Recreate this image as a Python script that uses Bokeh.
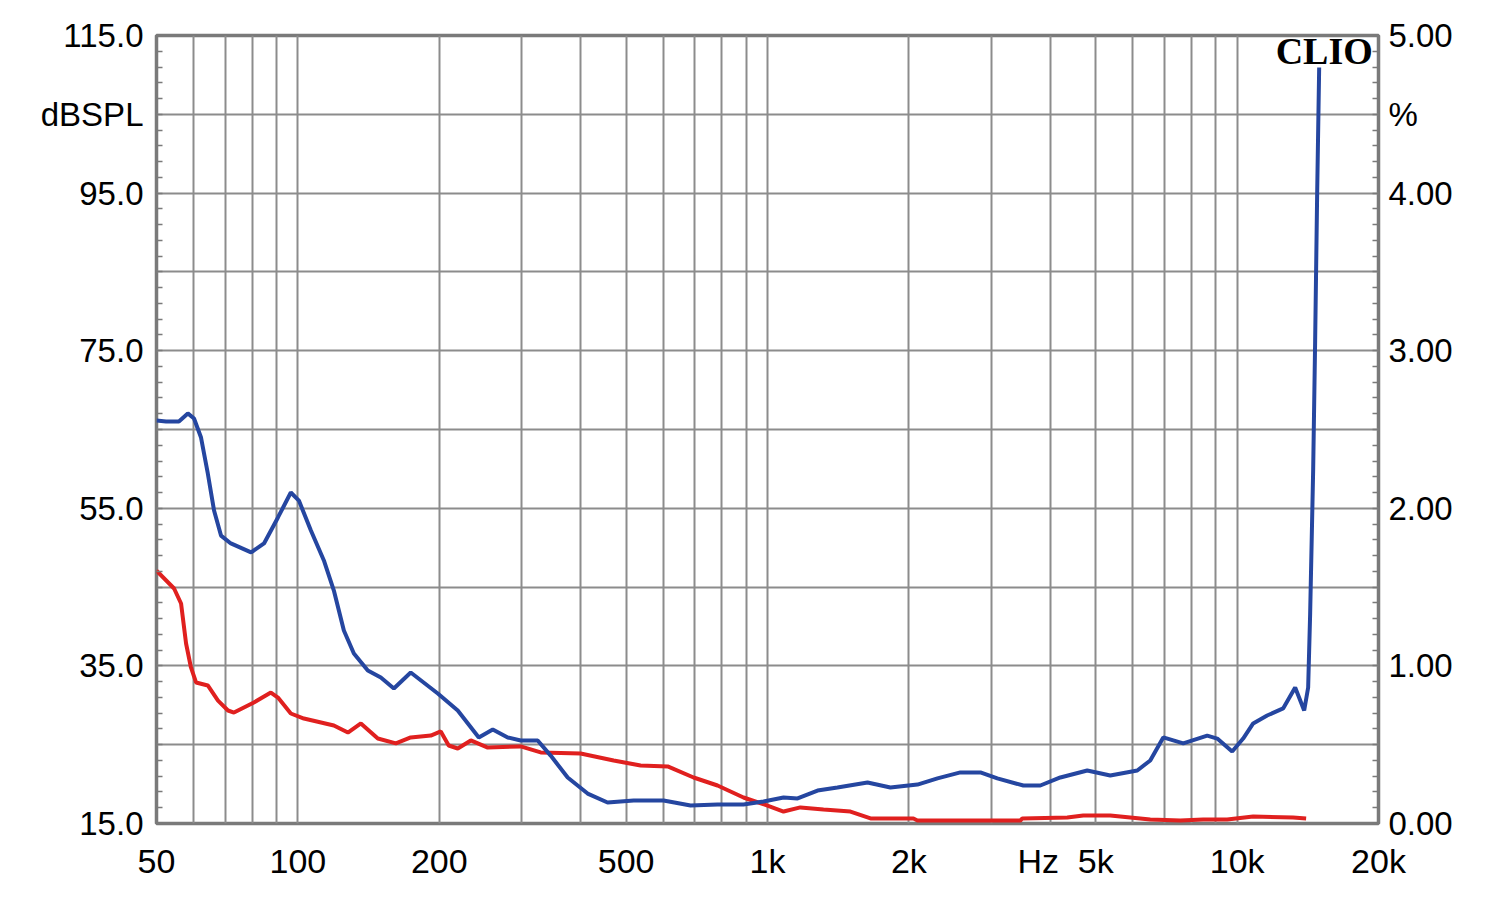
from bokeh.plotting import figure
from bokeh.models import Range1d, LinearAxis, FixedTicker, Label
from bokeh.embed import file_html
from bokeh.resources import INLINE

# ---- data ----
freq_blue = [50, 52.4, 55.8, 58.3, 60.1, 62.2, 64.3, 66.3, 68.6, 72.0, 79.5, 84.7, 90.7, 96.6,
             100.5, 106.6, 113.6, 119.3, 125.3, 131.6, 140.9, 150.2, 160.1, 173.9, 198.6, 219.0,
             242.8, 260.0, 279.8, 298.2, 324.1, 345.4, 375.4, 414.0, 456.5, 518.7, 600.8, 685.8,
             782.7, 889, 980.7, 1082, 1159, 1278, 1409, 1633, 1827, 2086, 2301, 2575, 2840, 3086,
             3506, 3810, 4203, 4796, 5368, 6129, 6531, 6962, 7679, 8636, 9071, 9760, 10300, 10818,
             11586, 12530, 13292, 13892, 14166, 14305, 14517, 14660, 14805, 14952]
thd_blue = [2.557, 2.551, 2.551, 2.602, 2.570, 2.449, 2.221, 1.986, 1.827, 1.777, 1.720, 1.777,
            1.942, 2.100, 2.049, 1.859, 1.669, 1.478, 1.225, 1.079, 0.971, 0.926, 0.857, 0.958,
            0.825, 0.717, 0.546, 0.596, 0.546, 0.527, 0.527, 0.431, 0.292, 0.190, 0.133, 0.146,
            0.146, 0.114, 0.121, 0.121, 0.140, 0.165, 0.159, 0.209, 0.228, 0.260, 0.228, 0.247,
            0.286, 0.324, 0.324, 0.286, 0.241, 0.241, 0.292, 0.336, 0.305, 0.336, 0.400, 0.546,
            0.508, 0.558, 0.539, 0.457, 0.539, 0.635, 0.685, 0.730, 0.863, 0.717, 0.863, 1.332,
            2.240, 3.065, 3.997, 4.797]

freq_red = [50, 54.5, 56.4, 57.8, 59.2, 60.7, 64.3, 67.6, 71.0, 73.1, 80.6, 87.6, 90.7, 96.6,
            103.0, 119.3, 127.8, 136.2, 148.0, 161.7, 173.9, 191.9, 201.5, 209.5, 219.0, 233.5,
            253.7, 298.2, 328.9, 400.0, 470.3, 536.8, 613, 696, 782.7, 889, 1000, 1082, 1175,
            1316, 1502, 1657, 2045, 2086, 3455, 3489, 4349, 4702, 5368, 5920, 6531, 7564, 8466,
            9524, 10818, 13158, 14026]
thd_red = [1.605, 1.491, 1.396, 1.142, 0.990, 0.895, 0.876, 0.780, 0.717, 0.704, 0.768, 0.831,
           0.799, 0.698, 0.666, 0.622, 0.577, 0.635, 0.539, 0.508, 0.546, 0.558, 0.584, 0.495,
           0.476, 0.527, 0.482, 0.489, 0.451, 0.444, 0.400, 0.368, 0.362, 0.292, 0.241, 0.165,
           0.114, 0.076, 0.102, 0.089, 0.076, 0.032, 0.032, 0.019, 0.019, 0.032, 0.038, 0.051,
           0.051, 0.038, 0.025, 0.019, 0.025, 0.025, 0.044, 0.038, 0.032]

x_ticks = [50, 100, 200, 500, 1000, 2000, 3770, 5000, 10000, 20000]
x_labels = ["50", "100", "200", "500", "1k", "2k", "Hz", "5k", "10k", "20k"]
x_grid = [60, 70, 80, 90, 100, 200, 300, 400, 500, 600, 700, 800, 900, 1000,
          2000, 3000, 4000, 5000, 6000, 7000, 8000, 9000, 10000]
db_ticks = [15, 25, 35, 45, 55, 65, 75, 85, 95, 105, 115]
db_labels = ["15.0", "", "35.0", "", "55.0", "", "75.0", "", "95.0", "dBSPL", "115.0"]
db_minor = list(range(15, 116, 2))
pct_ticks = [0.0, 0.5, 1.0, 1.5, 2.0, 2.5, 3.0, 3.5, 4.0, 4.5, 5.0]
pct_labels = ["0.00", "", "1.00", "", "2.00", "", "3.00", "", "4.00", "%", "5.00"]
pct_minor = [i / 10 for i in range(0, 51)]

FONT = "Liberation Sans"
GRID = "#8c8c8c"
FRAME = "#7a7a7a"

p = figure(width=1492, height=891, x_axis_type="log",
           x_range=Range1d(50, 20000), y_range=Range1d(15, 115),
           output_backend="svg", toolbar_location=None,
           min_border_left=156, min_border_right=114,
           min_border_top=35, min_border_bottom=68)
p.background_fill_color = "white"
p.border_fill_color = "white"
p.outline_line_color = FRAME
p.outline_line_width = 3.5

p.extra_y_ranges = {"pct": Range1d(0, 5)}

# x axis
xa = p.xaxis[0]
xa.ticker = FixedTicker(ticks=x_ticks, minor_ticks=[])
xa.major_label_overrides = {t: l for t, l in zip(x_ticks, x_labels)}
xa.axis_line_color = None
xa.major_tick_line_color = None
xa.minor_tick_line_color = None
xa.major_label_text_font = FONT
xa.major_label_text_font_size = "34px"
xa.major_label_text_color = "black"
xa.major_label_standoff = 12

# left axis
ya = p.yaxis[0]
ya.ticker = FixedTicker(ticks=db_ticks, minor_ticks=db_minor)
ya.major_label_overrides = {t: l for t, l in zip(db_ticks, db_labels)}
ya.axis_line_color = None
ya.major_tick_line_color = None
ya.minor_tick_in = 6
ya.minor_tick_out = 0
ya.minor_tick_line_color = FRAME
ya.minor_tick_line_width = 1.5
ya.major_label_text_font = FONT
ya.major_label_text_font_size = "33px"
ya.major_label_text_color = "black"
ya.major_label_standoff = 7

# right axis
ra = LinearAxis(y_range_name="pct",
                ticker=FixedTicker(ticks=pct_ticks, minor_ticks=pct_minor))
ra.major_label_overrides = {t: l for t, l in zip(pct_ticks, pct_labels)}
ra.axis_line_color = None
ra.major_tick_line_color = None
ra.minor_tick_in = 6
ra.minor_tick_out = 0
ra.minor_tick_line_color = FRAME
ra.minor_tick_line_width = 1.5
ra.major_label_text_font = FONT
ra.major_label_text_font_size = "33px"
ra.major_label_text_color = "black"
ra.major_label_standoff = 4
p.add_layout(ra, "right")

# grids
p.xgrid.ticker = FixedTicker(ticks=x_grid)
p.ygrid.ticker = FixedTicker(ticks=db_ticks)
for g in (p.xgrid[0], p.ygrid[0]):
    g.grid_line_color = GRID
    g.grid_line_width = 2

# curves
p.line(freq_red, thd_red, y_range_name="pct", line_color="#e0201f", line_width=4)
p.line(freq_blue, thd_blue, y_range_name="pct", line_color="#2546a0", line_width=4)

p.add_layout(Label(x=19450, y=113.0, text="CLIO", text_align="right",
                   text_baseline="alphabetic", text_font="Liberation Serif",
                   text_font_style="bold", text_font_size="38px", text_color="black"))

open("out.html", "w").write(file_html(p, INLINE))
